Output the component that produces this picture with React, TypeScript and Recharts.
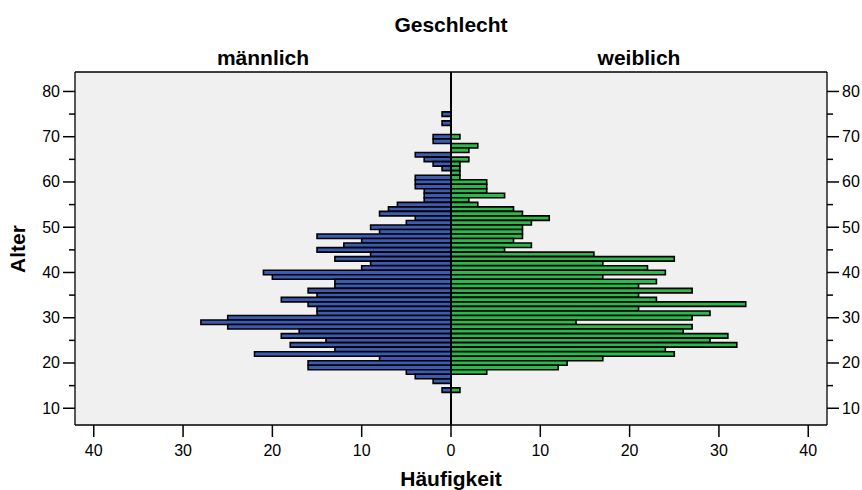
import { BarChart, Bar, XAxis, YAxis, CartesianGrid, ReferenceLine } from 'recharts';

// Alter (Jahre), von oben nach unten
const ages = [
  75, 74, 73, 72, 71, 70, 69, 68, 67, 66, 65, 64, 63, 62, 61, 60, 59, 58, 57, 56,
  55, 54, 53, 52, 51, 50, 49, 48, 47, 46, 45, 44, 43, 42, 41, 40, 39, 38, 37, 36,
  35, 34, 33, 32, 31, 30, 29, 28, 27, 26, 25, 24, 23, 22, 21, 20, 19, 18, 17, 16,
  15, 14,
];

// Häufigkeit männlich
const maleCounts = [
  1, 0, 1, 0, 0, 2, 2, 0, 0, 4, 3, 2, 1, 0, 4, 4, 4, 3, 3, 3,
  6, 7, 8, 4, 5, 9, 8, 15, 10, 12, 15, 9, 13, 9, 10, 21, 20, 13, 13, 16,
  15, 19, 16, 15, 15, 25, 28, 25, 17, 19, 14, 18, 13, 22, 8, 16, 16, 5, 4, 2,
  0, 1,
];

// Häufigkeit weiblich
const femaleCounts = [
  0, 0, 0, 0, 0, 1, 0, 3, 2, 0, 2, 1, 1, 1, 1, 4, 4, 4, 6, 2,
  3, 7, 8, 11, 9, 8, 8, 8, 7, 9, 6, 16, 25, 17, 22, 24, 17, 23, 21, 27,
  21, 23, 33, 21, 29, 27, 14, 27, 26, 31, 29, 32, 24, 25, 17, 13, 12, 4, 0, 0,
  0, 1,
];

const xTicks = [-40, -30, -20, -10, 0, 10, 20, 30, 40];
const yTicks = [10, 15, 20, 25, 30, 35, 40, 45, 50, 55, 60, 65, 70, 75, 80];

const xDomain = [-42.1, 42.1];
const yDomain = [6.3, 84.3];

const data = ages.map((age, i) => ({
  age,
  male: -maleCounts[i],
  female: femaleCounts[i],
}));

const FONT = '"Liberation Sans", Arial, sans-serif';

const LeftTick = (props: any) => {
  const { x, y, payload } = props;
  const major = payload.value % 10 === 0;
  return (
    <g>
      <line x1={x - (major ? 12 : 6)} x2={x} y1={y} y2={y} stroke="#000" strokeWidth={1.5} />
      {major && (
        <text x={x - 15} y={y + 5.5} textAnchor="end" fontSize={16} fontFamily={FONT} fill="#000">
          {payload.value}
        </text>
      )}
    </g>
  );
};

const RightTick = (props: any) => {
  const { x, y, payload } = props;
  const major = payload.value % 10 === 0;
  return (
    <g>
      <line x1={x} x2={x + (major ? 12 : 6)} y1={y} y2={y} stroke="#000" strokeWidth={1.5} />
      {major && (
        <text x={x + 15} y={y + 5.5} textAnchor="start" fontSize={16} fontFamily={FONT} fill="#000">
          {payload.value}
        </text>
      )}
    </g>
  );
};

const BottomTick = (props: any) => {
  const { x, y, payload } = props;
  return (
    <g>
      <line x1={x} x2={x} y1={y} y2={y + 12} stroke="#000" strokeWidth={1.5} />
      <text x={x} y={y + 30.5} textAnchor="middle" fontSize={16} fontFamily={FONT} fill="#000">
        {Math.abs(payload.value)}
      </text>
    </g>
  );
};

const titleStyle = { fontFamily: FONT, fontSize: 21, fontWeight: 700, fill: '#000' } as const;

export default function App() {
  return (
    <div style={{ position: 'absolute', left: 0, top: 0, width: 862, height: 490, background: '#fff' }}>
      <BarChart
        width={862}
        height={490}
        data={data}
        layout="vertical"
        stackOffset="sign"
        barCategoryGap={0}
        margin={{ top: 72, right: 0, bottom: 20, left: 35 }}
      >
        <CartesianGrid horizontal={false} vertical={false} fill="#f0f0f0" />
        <XAxis
          type="number"
          domain={xDomain}
          ticks={xTicks}
          allowDataOverflow
          height={45}
          tickSize={0}
          tickMargin={0}
          tick={<BottomTick />}
          axisLine={{ stroke: '#000', strokeWidth: 1.3 }}
          interval={0}
        />
        <YAxis
          yAxisId="left"
          type="number"
          dataKey="age"
          domain={yDomain}
          ticks={yTicks}
          allowDataOverflow
          reversed
          width={40}
          tickSize={0}
          tickMargin={0}
          tick={<LeftTick />}
          axisLine={{ stroke: '#000', strokeWidth: 1.3 }}
          interval={0}
        />
        <YAxis
          yAxisId="right"
          orientation="right"
          type="number"
          dataKey="age"
          domain={yDomain}
          ticks={yTicks}
          allowDataOverflow
          reversed
          width={35}
          tickSize={0}
          tickMargin={0}
          tick={<RightTick />}
          axisLine={{ stroke: '#000', strokeWidth: 1.3 }}
          interval={0}
        />
        <Bar
          yAxisId="left"
          dataKey="male"
          stackId="g"
          barSize={4.5}
          fill="#3c5cb4"
          stroke="#000"
          strokeWidth={1.6}
          isAnimationActive={false}
        />
        <Bar
          yAxisId="left"
          dataKey="female"
          stackId="g"
          barSize={4.5}
          fill="#2cb84a"
          stroke="#000"
          strokeWidth={1.6}
          isAnimationActive={false}
        />
        <ReferenceLine yAxisId="left" x={0} stroke="#000" strokeWidth={2} />
        <ReferenceLine yAxisId="left" y={yDomain[1]} stroke="#000" strokeWidth={1.3} />
      </BarChart>
      <svg
        width={862}
        height={490}
        style={{ position: 'absolute', left: 0, top: 0, pointerEvents: 'none' }}
      >
        <text x={451} y={32} textAnchor="middle" style={titleStyle}>Geschlecht</text>
        <text x={263} y={65} textAnchor="middle" style={titleStyle}>männlich</text>
        <text x={639} y={65} textAnchor="middle" style={titleStyle}>weiblich</text>
        <text x={451} y={486} textAnchor="middle" style={titleStyle}>Häufigkeit</text>
        <text transform="translate(25,249) rotate(-90)" textAnchor="middle" style={titleStyle}>Alter</text>
      </svg>
    </div>
  );
}
